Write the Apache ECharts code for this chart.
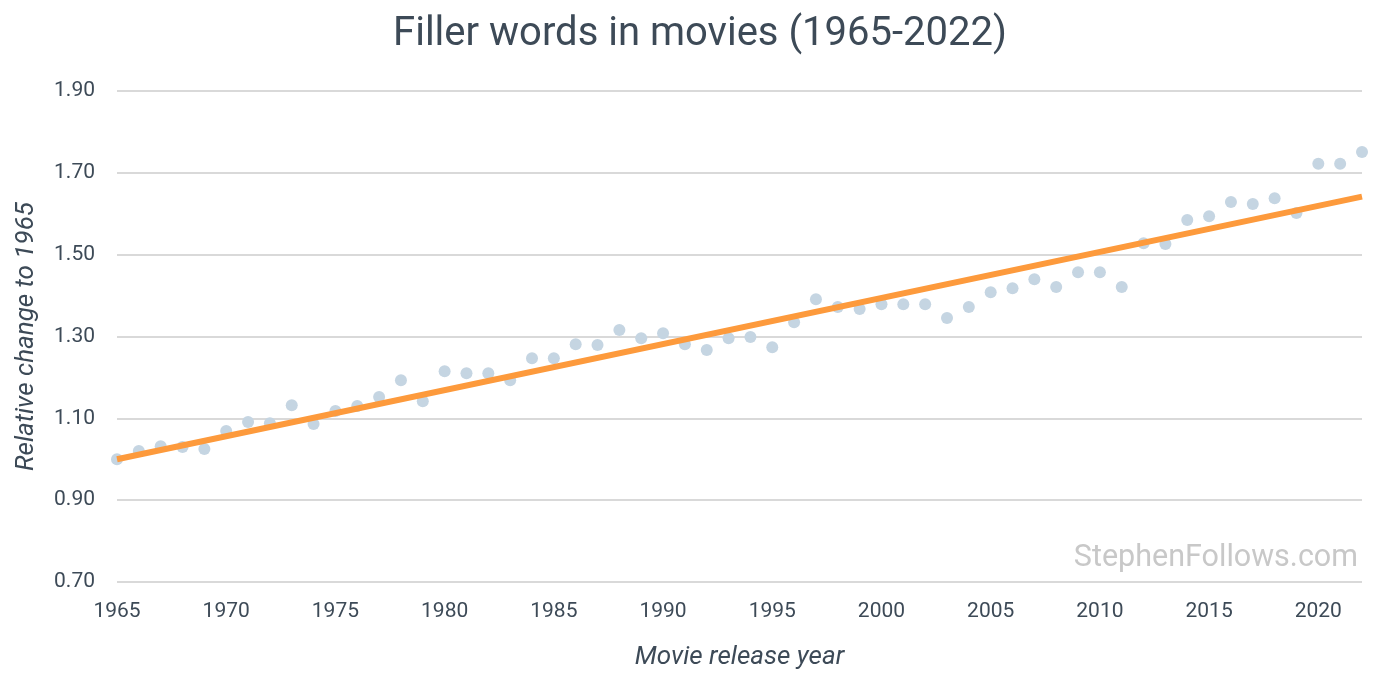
<!DOCTYPE html>
<html><head><meta charset="utf-8">
<script src="https://cdn.jsdelivr.net/npm/echarts@6/dist/echarts.min.js"></script>
<style>html,body{margin:0;padding:0;background:#fff}#c{width:1400px;height:686px}</style>
</head><body><div id="c"></div>
<script>
const years = [1965,1966,1967,1968,1969,1970,1971,1972,1973,1974,1975,1976,1977,1978,1979,1980,1981,1982,1983,1984,1985,1986,1987,1988,1989,1990,1991,1992,1993,1994,1995,1996,1997,1998,1999,2000,2001,2002,2003,2004,2005,2006,2007,2008,2009,2010,2011,2012,2013,2014,2015,2016,2017,2018,2019,2020,2021,2022];
const relChange = [1.000,1.020,1.032,1.030,1.025,1.069,1.091,1.088,1.132,1.086,1.118,1.130,1.152,1.193,1.142,1.215,1.210,1.210,1.193,1.247,1.247,1.281,1.279,1.316,1.296,1.308,1.281,1.267,1.296,1.299,1.274,1.335,1.391,1.372,1.367,1.379,1.379,1.379,1.345,1.372,1.408,1.418,1.440,1.421,1.457,1.457,1.421,1.528,1.526,1.585,1.594,1.629,1.624,1.638,1.602,1.722,1.722,1.751];
const trendYears = [1965, 2022];
const trendValues = [1.000, 1.642];
const yTicks = {min: 0.7, max: 1.9, step: 0.2};
const xTicks = {min: 1965, max: 2022, step: 5};

const txt = '#3d4a57';
const chart = echarts.init(document.getElementById('c'), null, {renderer: 'canvas'});
chart.setOption({
  backgroundColor: '#fff',
  animation: false,
  textStyle: {fontFamily: 'Roboto'},
  title: {
    text: 'Filler words in movies (1965-2022)',
    left: 'center', top: 10,
    textStyle: {fontFamily: 'Roboto', fontSize: 40, fontWeight: 'normal', color: txt}
  },
  grid: {left: 117, right: 38, top: 91, bottom: 104},
  xAxis: {
    type: 'value', min: xTicks.min, max: xTicks.max, interval: xTicks.step,
    name: 'Movie release year', nameLocation: 'middle', nameGap: 62,
    nameTextStyle: {fontFamily: 'Roboto', fontSize: 26, fontStyle: 'italic', color: txt},
    axisLine: {show: false}, axisTick: {show: false}, splitLine: {show: false},
    axisLabel: {fontFamily: 'Roboto', fontSize: 21, color: txt, margin: 19, showMaxLabel: false,
      formatter: v => String(v)}
  },
  yAxis: {
    type: 'value', min: yTicks.min, max: yTicks.max, interval: yTicks.step,
    name: 'Relative change to 1965', nameLocation: 'middle', nameGap: 78,
    nameTextStyle: {fontFamily: 'Roboto', fontSize: 26, fontStyle: 'italic', color: txt},
    axisLine: {show: false}, axisTick: {show: false},
    splitLine: {lineStyle: {color: '#d9d9d9', width: 2}},
    axisLabel: {fontFamily: 'Roboto', fontSize: 21, color: txt, margin: 22,
      formatter: v => v.toFixed(2)}
  },
  graphic: [{
    type: 'text', right: 42, top: 543,
    style: {text: 'StephenFollows.com', fontFamily: 'Roboto', fontSize: 30.5, fill: '#c8c8c8'}
  }],
  series: [
    {
      type: 'scatter', data: years.map((y, i) => [y, relChange[i]]),
      symbolSize: 12, itemStyle: {color: '#c5d5e2', opacity: 1}, z: 2
    },
    {
      type: 'line', data: trendYears.map((y, i) => [y, trendValues[i]]),
      symbol: 'none', lineStyle: {color: '#fd9a3c', width: 6}, z: 3
    }
  ]
});
</script></body></html>
